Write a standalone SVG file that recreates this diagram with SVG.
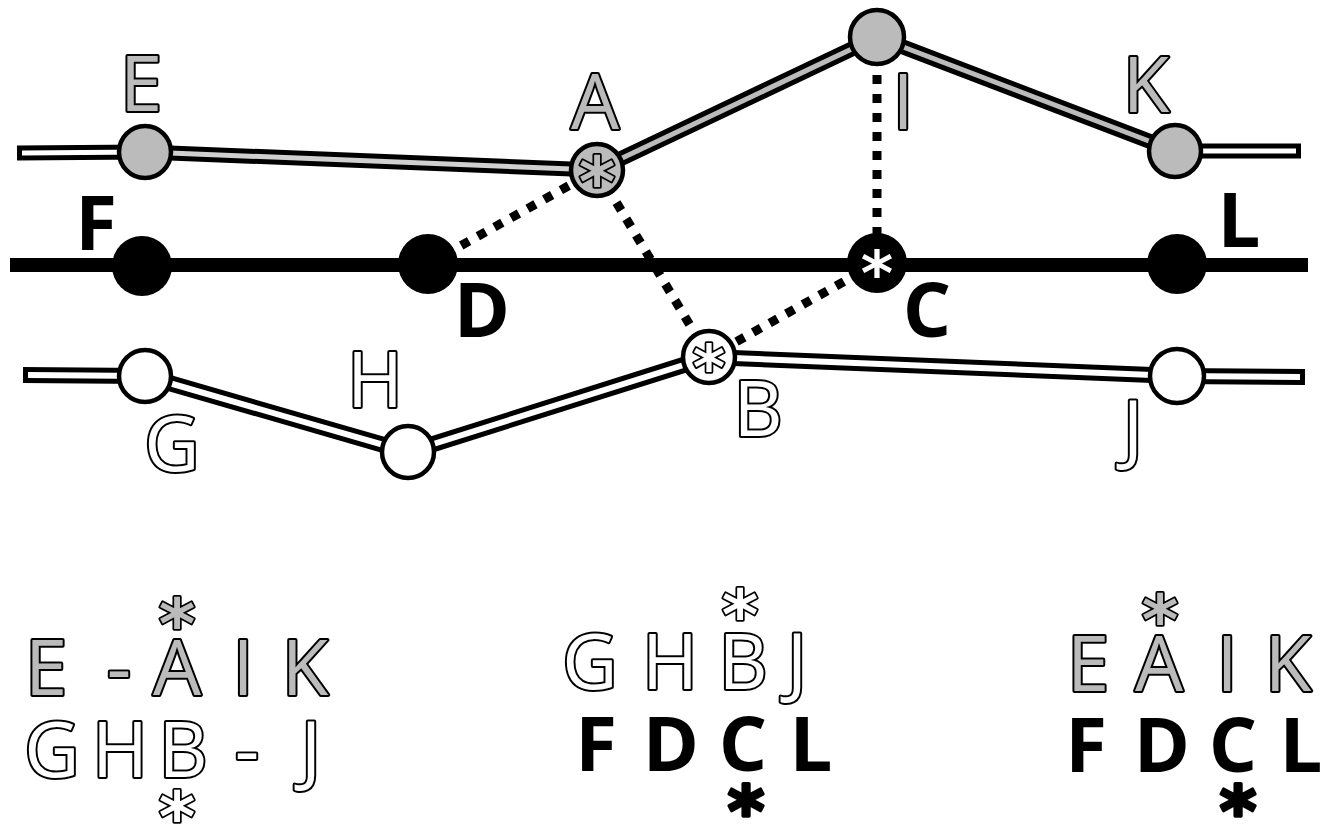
<svg xmlns="http://www.w3.org/2000/svg" width="1321" height="827" viewBox="0 0 1321 827">
<style>
.lbl{font-family:"Open Sans","Liberation Sans",sans-serif;font-size:76px;text-anchor:middle;stroke:#000;stroke-width:4;paint-order:stroke;stroke-linejoin:round}
.g{fill:#bbb}
.w{fill:#fff}
.k{fill:#000;font-weight:700;stroke:none}
.ast{font-family:"DejaVu Sans",sans-serif;font-weight:700;font-size:70px;text-anchor:middle;stroke:#000;stroke-width:3.5;paint-order:stroke;stroke-linejoin:round}
.sm{font-size:62px}
.ak{fill:#000}
.outer{fill:none;stroke:#000;stroke-linejoin:round}
.dot{stroke:#000;stroke-width:9;stroke-dasharray:9 10;fill:none}
.ng{fill:#bbb;stroke:#000;stroke-width:4.5}
.nw{fill:#fff;stroke:#000;stroke-width:4.5}
.nk{fill:#000}
</style>
<rect width="1321" height="827" fill="#fff"/>
<g id="connectors">
  <polyline class="outer" stroke-width="15" points="17,153 145,152 597,170 877,37 1175,151 1301,151"/>
  <line x1="22" y1="153" x2="145" y2="152" stroke="#fff" stroke-width="5"/>
  <line x1="145" y1="152" x2="597" y2="170" stroke="#d0d0d0" stroke-width="5"/>
  <line x1="597" y1="170" x2="877" y2="37" stroke="#bbb" stroke-width="5"/>
  <line x1="877" y1="37" x2="1175" y2="151" stroke="#bbb" stroke-width="5"/>
  <line x1="1175" y1="151" x2="1296" y2="151" stroke="#fff" stroke-width="5"/>
  <line x1="10" y1="265" x2="1308" y2="265" stroke="#000" stroke-width="14"/>
  <polyline class="outer" stroke-width="16" points="23,375 145,376 408,452 709,357 1177,376 1305,377"/>
  <polyline fill="none" stroke="#fff" stroke-width="6" stroke-linejoin="round" points="28,375 145,376 408,452 709,357 1177,376 1300,377"/>
  <line class="dot" x1="428" y1="264" x2="597" y2="170"/>
  <line class="dot" x1="597" y1="170" x2="709" y2="357"/>
  <line class="dot" x1="877" y1="37" x2="877" y2="263"/>
  <line class="dot" x1="877" y1="263" x2="709" y2="357"/>
</g>
<g id="node-E"><circle class="ng" cx="145" cy="152" r="26"/><text class="lbl g" x="141" y="111">E</text></g>
<g id="node-A"><circle class="ng" cx="597" cy="170" r="26"/><text class="ast g" x="597" y="206">*</text><text class="lbl g" x="595" y="129">A</text></g>
<g id="node-I"><circle class="ng" cx="877" cy="37" r="27"/><text class="lbl g" x="903" y="129">I</text></g>
<g id="node-K"><circle class="ng" cx="1175" cy="151" r="26"/><text class="lbl g" x="1146" y="112">K</text></g>
<g id="node-F"><circle class="nk" cx="142" cy="266" r="30"/><text class="lbl k" x="96" y="250">F</text></g>
<g id="node-D"><circle class="nk" cx="428" cy="264" r="30"/><text class="lbl k" x="482" y="337">D</text></g>
<g id="node-C"><circle class="nk" cx="877" cy="263" r="30"/><text class="ast sm w" x="877" y="295">*</text><text class="lbl k" x="927" y="337">C</text></g>
<g id="node-L"><circle class="nk" cx="1177" cy="264" r="30"/><text class="lbl k" x="1239" y="247">L</text></g>
<g id="node-G"><circle class="nw" cx="145" cy="376" r="26"/><text class="lbl w" x="172" y="471">G</text></g>
<g id="node-H"><circle class="nw" cx="408" cy="452" r="26"/><text class="lbl w" x="375" y="407">H</text></g>
<g id="node-B"><circle class="nw" cx="709" cy="357" r="26"/><text class="ast sm w" x="709" y="389">*</text><text class="lbl w" x="758" y="436">B</text></g>
<g id="node-J"><circle class="nw" cx="1177" cy="376" r="27"/><text class="lbl w" x="1133" y="456">J</text></g>
<g id="legend-left">
<text class="ast g" x="177" y="648">*</text>
<text class="lbl g" x="46" y="695">E</text><text class="lbl g" x="119" y="695">-</text><text class="lbl g" x="177" y="695">A</text><text class="lbl g" x="243" y="695">I</text><text class="lbl g" x="305" y="695">K</text>
<text class="lbl w" x="52" y="777">G</text><text class="lbl w" x="120" y="777">H</text><text class="lbl w" x="183" y="777">B</text><text class="lbl w" x="247" y="777">-</text><text class="lbl w" x="311" y="777">J</text>
<text class="ast w" x="177" y="841">*</text>
</g>
<g id="legend-middle">
<text class="ast w" x="740" y="639">*</text>
<text class="lbl w" x="590" y="689">G</text><text class="lbl w" x="670" y="689">H</text><text class="lbl w" x="743" y="689">B</text><text class="lbl w" x="797" y="689">J</text>
<text class="lbl k" x="596" y="771">F</text><text class="lbl k" x="671" y="771">D</text><text class="lbl k" x="743" y="771">C</text><text class="lbl k" x="811" y="771">L</text>
<text class="ast ak" x="746" y="835">*</text>
</g>
<g id="legend-right">
<text class="ast g" x="1160" y="644">*</text>
<text class="lbl g" x="1088" y="691">E</text><text class="lbl g" x="1159" y="691">A</text><text class="lbl g" x="1227" y="691">I</text><text class="lbl g" x="1288" y="691">K</text>
<text class="lbl k" x="1086" y="772">F</text><text class="lbl k" x="1162" y="772">D</text><text class="lbl k" x="1233" y="772">C</text><text class="lbl k" x="1301" y="772">L</text>
<text class="ast ak" x="1238" y="835">*</text>
</g>
</svg>
